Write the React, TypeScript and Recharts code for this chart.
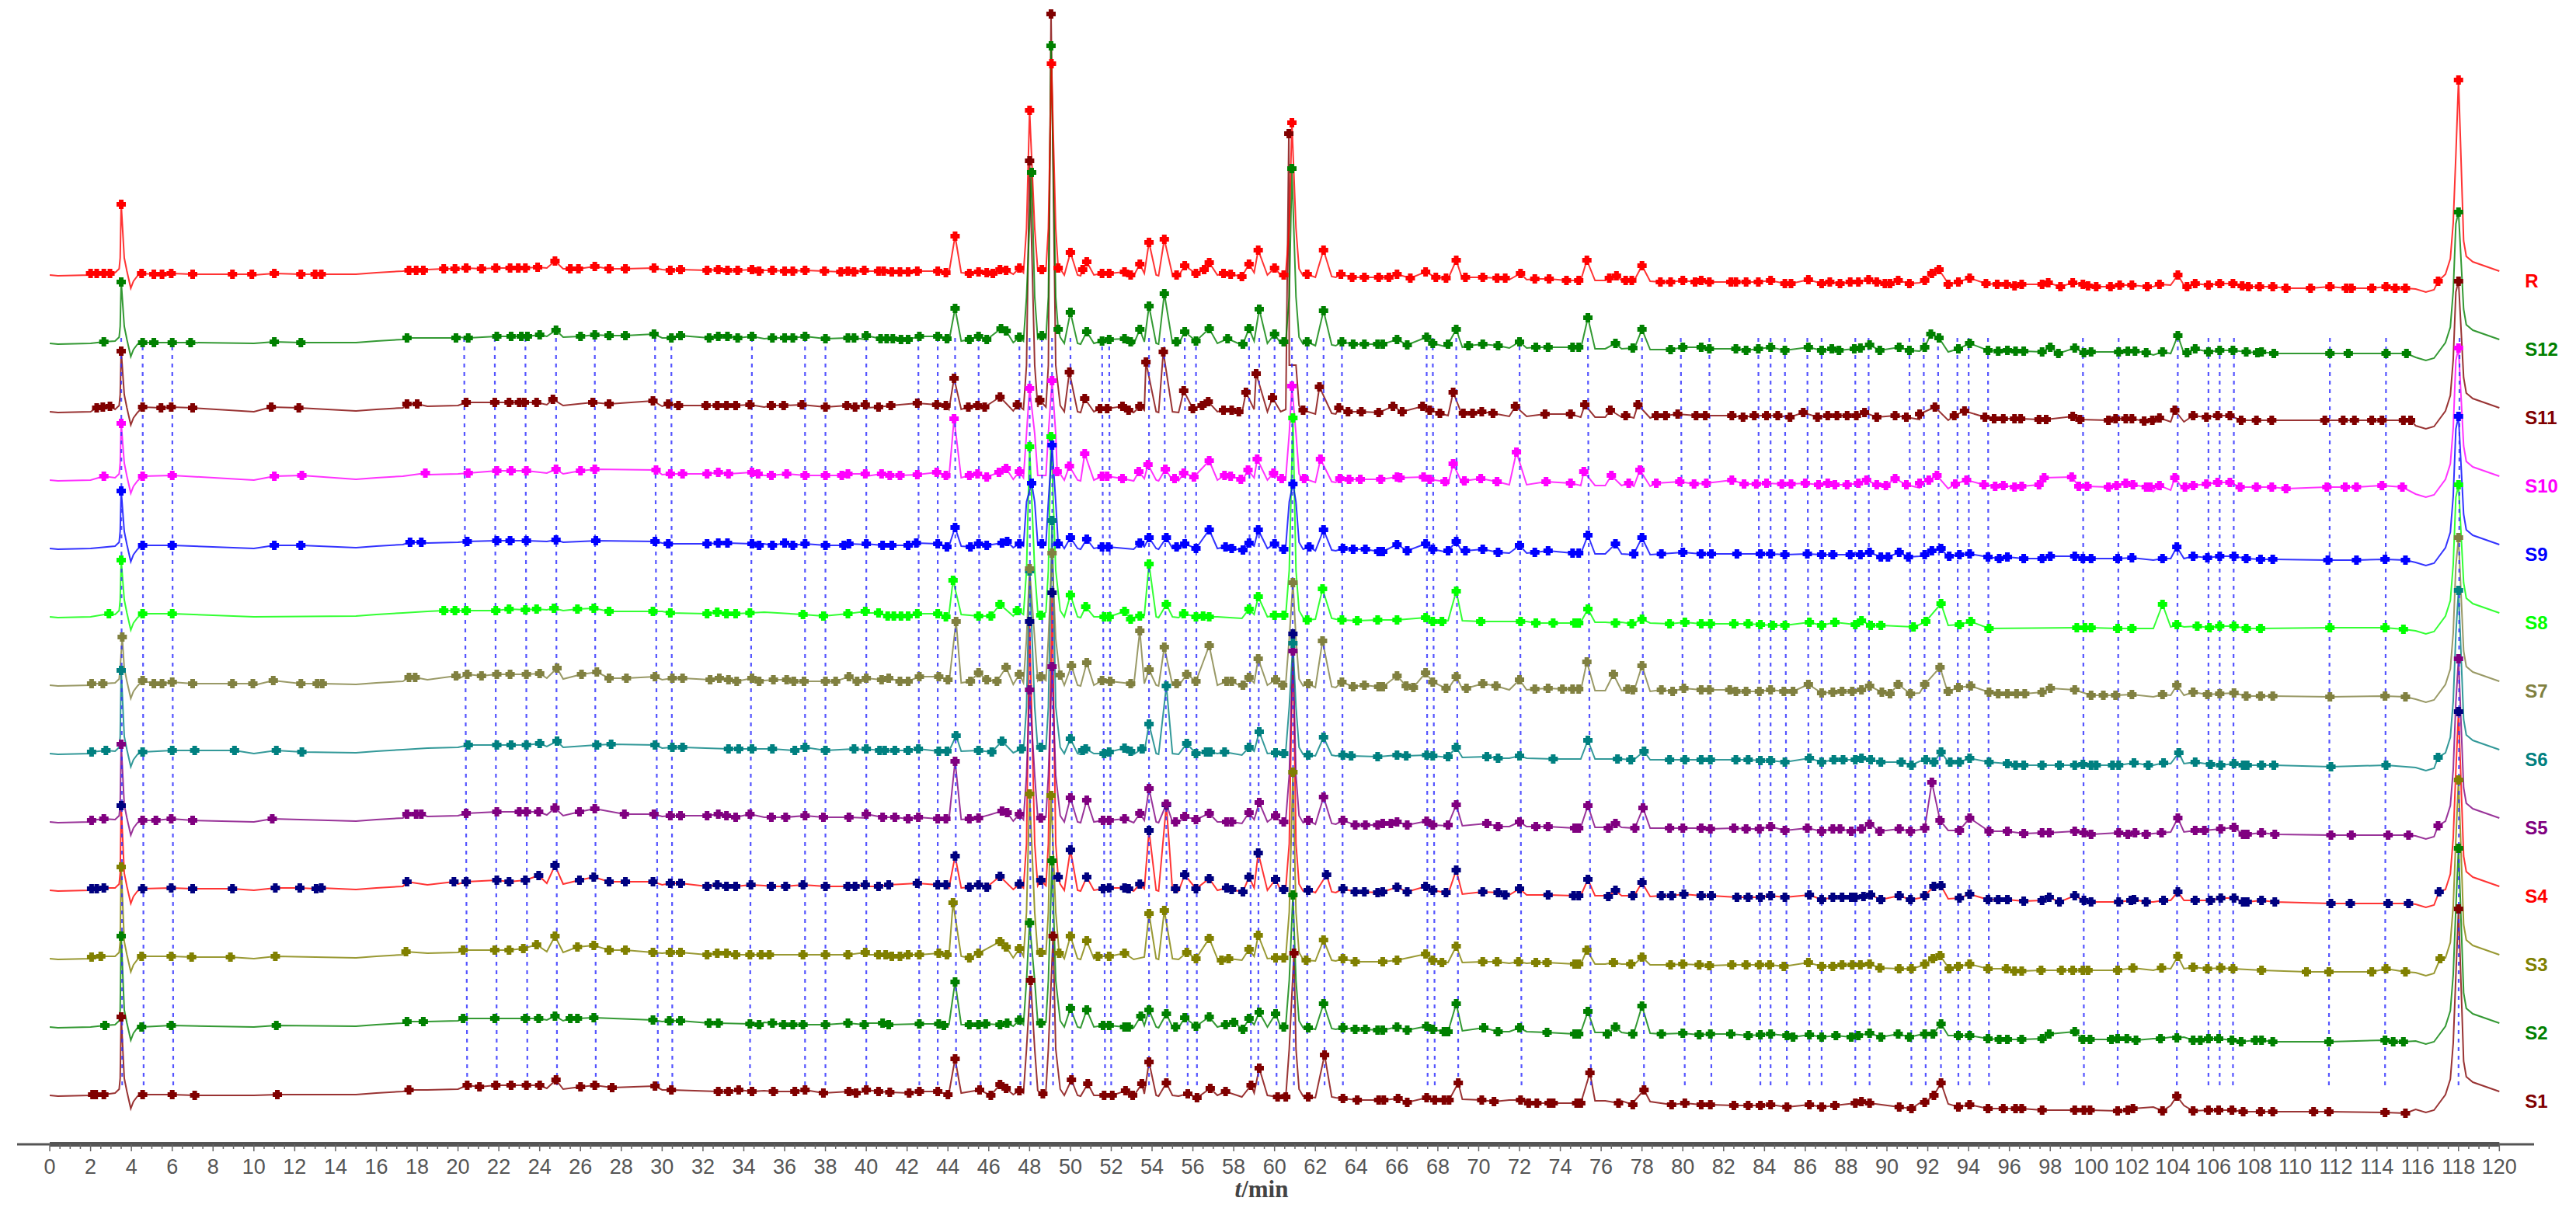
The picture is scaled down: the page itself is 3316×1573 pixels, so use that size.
import React from "react"
import { ComposedChart, Line, XAxis, YAxis, ReferenceLine, ReferenceDot, Label } from "recharts"

type Pair = [number, number]

// points every trace shares: valleys and peak feet, [min, signal]
const VALLEYS: Pair[] = [
  [0,0],[0.4,-1],[2,0],[3.2,3],[3.4,8],[3.45,22],[3.65,22],[3.78,5],[3.97,-17],[4.1,-8],[4.3,-1],[10,0],[15,1],[16,3],[17.3,5],[18.5,7],[20,8],[24.35,9],[25.15,8],[30,7],[35,6],[40,5],[44.05,3],[44.65,3],[47.2,1],
  [47.7,3],[47.85,60],[48.25,60],[48.4,6],[48.8,6],[48.92,60],[49.28,60],[49.5,8],[49.7,0],[50.35,0],[50.5,-1],[51.15,0],[53.1,-1],[53.62,2],[54.2,0],[54.32,-1],[55,0],[55.3,-1],[57.2,0],[58.4,-2],[59,3],[59.65,0],[60.3,0],[60.55,3],[60.72,60],[61.05,60],[61.2,8],[61.4,-1],[62,-3],[62.8,-2],[63,-3],[68.5,-5],[69.2,-5],[71.5,-6],[72.35,-6],[75,-7],[75.7,-7],[76.2,-7],[77,-7],
  [77.6,-8],[78.4,-8],[91.6,-10],[93,-11],[103.05,-15],[103.9,-13],[104.55,-13],[115.9,-18],[116.4,-22],[116.8,-19],[117.36,1],[117.6,21],[117.74,67],[117.87,154],[118.25,44],[118.38,24],[118.7,17],[120,5],
]

const R_MARKS: Pair[] = [
  [2,2],[2.3,2],[2.65,2],[2.95,2],[3.5,91],[4.5,2],[5.1,1],[5.5,1],[5.95,2],[7,1],[8.95,1],[9.9,1],[11,2],[12.3,1],[13,1],[13.3,1],[17.6,6],[17.95,6],[18.3,6],[19.3,8],[19.85,8],[20.4,9],[21.15,8],[21.85,9],[22.55,9],[22.95,9],[23.3,9],[23.9,10],[24.75,18],[25.5,8],[25.9,8],[26.7,11],
  [27.4,8],[28.2,8],[29.6,9],[30.4,6],[30.9,7],[32.2,6],[32.75,7],[33.2,6],[33.7,6],[34.4,7],[34.75,5],[35.4,6],[36,5],[36.4,5],[37,6],[37.95,5],[38.75,4],[39.1,5],[39.4,4],[39.9,6],[40.6,5],[40.85,5],[41.25,4],[41.65,4],[42.05,4],[42.5,5],[43.5,5],[43.9,3],[44.35,50],[45.05,2],[45.5,4],[45.9,3],[46.2,2],[46.55,7],[46.85,6],[47.5,9],
  [48,212],[48.6,7],[49.07,272],[49.4,9],[50,29],[50.6,7],[50.8,17],[51.55,2],[51.9,2],[52.65,4],[52.95,0],[53.4,14],[53.85,42],[54.6,46],[55.2,0],[55.6,12],[56.15,2],[56.55,7],[56.8,16],[57.5,2],[57.85,1],[58.4,-2],[58.75,14],[59.2,32],[60,9],[60.45,0],[60.85,196],[61.6,1],[62.4,32],[63.25,1],[63.8,-3],[64.4,-3],[65.1,-3],[65.6,-3],[66,1],[66.65,-4],[67.4,4],[67.9,-3],[68.4,-4],[68.9,19],[69.35,-3],[70.2,-3],[70.9,-4],[71.3,-4],[72.05,2],[72.75,-5],[73.45,-5],[74.3,-7],[74.9,-7],[75.3,19],[76.4,-4],[76.75,-1],
  [77.2,-7],[77.5,-7],[78,12],[78.9,-9],[79.4,-9],[80,-7],[80.6,-9],[80.9,-7],[81.3,-9],[82.35,-9],[82.6,-9],[83.1,-9],[83.7,-9],[84.3,-7],[85,-11],[85.3,-11],[86.15,-6],[86.8,-11],[87.2,-9],[87.7,-11],[88.2,-9],[88.6,-9],[89.1,-6],[89.5,-9],[89.9,-11],[90.15,-11],[90.55,-7],[91.1,-11],[91.85,-7],[92.2,2],[92.55,7],[93,-12],[93.5,-9],[94.05,-4],[94.85,-11],[95.4,-12],[95.85,-12],[96.25,-14],[96.6,-12],
  [97.6,-12],[97.9,-10],[98.5,-15],[99.1,-10],[99.6,-12],[99.85,-14],[100.25,-15],[100.95,-15],[101.4,-13],[102,-13],[102.75,-15],[103.35,-12],[104.25,0],[104.7,-15],[105.1,-11],[105.75,-13],[106.3,-11],[106.95,-11],[107.4,-14],[107.7,-15],[108.25,-15],[108.9,-15],[109.55,-17],[110.75,-17],[111.7,-15],[112.5,-17],[112.75,-17],[113.75,-17],[114.45,-15],[114.9,-17],[115.4,-17],[117,-8],[118,251],
]
const S12_MARKS: Pair[] = [
  [2.65,2],[3.5,79],[4.55,1],[5.1,1],[6,1],[6.9,1],[11,2],[12.3,1],[17.5,7],[19.9,7],[20.5,7],[21.9,9],[22.6,9],[23.1,9],[23.4,9],[24,11],[24.8,17],[26,9],[26.7,11],
  [27.4,10],[28.2,10],[29.6,12],[30.45,7],[30.9,10],[32.3,7],[32.75,9],[33.2,9],[33.7,7],[34.4,9],[35.4,7],[36,7],[36.4,7],[37,9],[38,6],[39.1,7],[39.4,7],[40,10],[40.7,6],[41,6],[41.3,6],[41.7,5],[42.05,5],[42.6,9],[43.5,9],[43.95,6],[44.35,45],[45.05,5],[45.5,9],[45.9,5],[46.6,19],[46.85,16],[47.5,8],
  [48.1,220],[48.6,10],[49.05,383],[49.4,18],[50,40],[50.8,15],[51.55,3],[51.9,5],[52.65,6],[52.95,2],[53.4,18],[53.85,48],[54.6,64],[55.2,2],[55.6,15],[56.15,3],[56.8,19],[57.7,6],[58.45,-1],[58.75,19],[59.25,44],[60,12],[60.45,2],[60.85,225],[61.6,2],[62.4,42],[63.3,2],[63.85,-1],[64.4,-1],[65.05,-1],[65.3,-1],[66,5],[66.5,-2],[67.45,8],[67.75,0],[68.5,-1],[68.9,18],[69.5,-3],[70.2,-1],[70.95,-3],[72,2],[72.8,-5],[73.4,-5],[74.6,-5],[74.9,-5],[75.35,33],[76.7,0],
  [77.55,-6],[78,18],[79.4,-8],[80,-5],[80.9,-5],[81.3,-7],[82.6,-7],[83.1,-9],[83.7,-7],[84.3,-5],[85,-9],[86.15,-5],[86.8,-9],[87.3,-7],[87.65,-9],[88.4,-7],[88.7,-6],[89.15,-2],[89.65,-9],[90.6,-5],[91.1,-9],[91.85,-5],[92.15,12],[92.55,7],[93.5,-7],[94.05,0],[94.95,-9],[95.45,-10],[95.9,-9],[96.3,-10],[96.7,-10],
  [97.6,-11],[98,-5],[98.4,-13],[99.2,-6],[99.65,-12],[100,-11],[101.35,-11],[101.8,-10],[102.15,-10],[102.7,-12],[103.5,-11],[104.25,10],[104.7,-12],[105.1,-7],[105.75,-11],[106.3,-9],[106.95,-9],[107.6,-11],[108.15,-12],[108.35,-11],[108.95,-13],[111.7,-13],[112.6,-13],[114.45,-13],[115.45,-13],[118,169],
]
const S11_MARKS: Pair[] = [
  [2.3,5],[2.6,6],[2.95,7],[3.5,78],[4.55,6],[5.45,5],[5.95,6],[7,5],[10.85,6],[12.2,5],[17.5,10],[18,10],[20.4,12],[21.8,12],[22.5,12],[23,12],[23.25,12],[23.85,12],[24.65,16],[26.6,12],
  [27.4,10],[29.55,14],[30.3,10],[30.8,8],[32.15,8],[32.7,8],[33.15,8],[33.6,8],[34.3,9],[35.35,8],[35.95,8],[36.85,9],[38,6],[39.05,8],[39.45,6],[39.95,9],[40.6,6],[41.2,8],[42.5,11],[43.45,9],[43.9,8],[44.3,43],[45,6],[45.45,8],[45.8,6],[46.55,19],[47.4,9],
  [48,323],[48.5,15],[49.05,512],[49.95,51],[50.7,17],[51.45,4],[51.8,4],[52.55,7],[52.85,2],[53.4,7],[53.7,64],[54.55,77],[55.55,27],[56,4],[56.45,8],[56.75,13],[57.5,2],[57.9,2],[58.25,0],[58.6,25],[59.1,49],[59.9,18],[60.7,358],[61.4,2],[62.2,32],[63.15,5],[63.6,0],[64.25,0],[65.1,-1],[65.8,7],[66.25,0],[67.25,7],[67.6,2],[68.1,-2],[68.75,25],[69.25,-2],[69.7,-2],[70.15,0],[70.7,-2],[71.8,7],[73.25,-3],[74.5,-3],[75.2,9],[76.45,2],
  [77.2,-5],[77.8,9],[78.7,-5],[79.15,-5],[79.75,-3],[80.65,-5],[81.1,-5],[82.4,-5],[82.95,-7],[83.5,-5],[84.1,-5],[84.65,-5],[85.25,-7],[85.9,-1],[86.6,-7],[87.1,-5],[87.55,-5],[88.05,-5],[88.5,-5],[88.9,-1],[89.5,-7],[90.4,-5],[90.95,-7],[91.6,-3],[92.35,6],[93.3,-5],[93.8,1],[94.8,-7],[95.25,-9],[95.7,-9],[96.25,-9],[96.55,-9],
  [97.45,-10],[97.8,-10],[99.1,-6],[99.45,-10],[100.85,-11],[101.2,-9],[101.7,-9],[102,-9],[102.6,-12],[103,-11],[103.35,-8],[104.1,2],[105,-5],[105.65,-7],[106.2,-5],[106.8,-5],[107.35,-11],[108.1,-11],[108.85,-11],[111.45,-11],[112.35,-11],[112.9,-11],[113.75,-11],[114.25,-11],[115.3,-11],[115.65,-11],[118,168],
]
const S10_MARKS: Pair[] = [
  [2.65,5],[3.5,73],[4.55,5],[6,6],[11,5],[12.35,6],[18.4,9],[20.5,9],[21.9,12],[22.6,12],[23.35,12],[24.8,14],[26,12],[26.7,14],
  [29.7,13],[30.4,8],[31,8],[32.2,8],[32.75,10],[33.25,8],[34.4,10],[34.7,8],[35.35,6],[36.1,8],[37,6],[38,6],[38.8,6],[39.1,8],[39.95,8],[40.75,8],[41.15,6],[41.65,6],[42.5,7],[43.45,10],[43.9,6],[44.3,79],[45.05,6],[45.45,8],[45.9,4],[46.5,10],[46.85,15],[47.5,11],
  [48,118],[49.1,128],[49.35,11],[49.95,18],[50.7,34],[51.55,5],[51.8,5],[52.55,2],[53.35,11],[53.8,20],[54.65,14],[55.1,2],[55.55,9],[56.05,4],[56.8,25],[57.55,6],[57.85,5],[58.35,1],[58.7,13],[59.15,27],[59.95,9],[60.35,2],[60.85,121],[61.45,2],[62.25,27],[63.2,2],[63.65,1],[64.2,1],[65.2,1],[66,4],[66.15,3],[67.3,4],[67.6,1],[68.35,-2],[68.75,21],[69.3,-1],[70.1,2],[70.9,-2],[71.85,36],[73.3,-2],[74.5,-4],[75.15,11],[76.5,6],
  [77.35,-4],[77.9,13],[78.7,-4],[79.85,-2],[80.55,-5],[81.15,-4],[82.4,0],[83,-5],[83.6,-5],[84.1,-4],[84.85,-5],[85.3,-5],[86,-4],[86.65,-6],[87.1,-4],[87.45,-6],[88.05,-6],[88.6,-4],[89,0],[89.5,-6],[89.95,-7],[90.4,2],[90.95,-6],[91.6,-4],[92.05,0],[92.45,6],[93.35,-5],[93.9,0],[94.75,-6],[95.3,-8],[95.7,-7],[96.25,-9],[96.6,-8],
  [97.45,-6],[97.7,3],[99.05,4],[99.4,-8],[99.8,-8],[100.85,-9],[101.25,-7],[101.7,-4],[102.05,-6],[102.7,-9],[102.9,-9],[103.35,-7],[104.1,3],[104.6,-9],[105,-7],[105.65,-5],[106.2,-3],[106.8,-3],[107.3,-9],[108.1,-9],[108.85,-9],[109.55,-11],[111.55,-9],[112.45,-9],[113,-9],[114.25,-7],[115.25,-9],[118,170],
]
const S9_MARKS: Pair[] = [
  [3.5,74],[4.55,4],[6,4],[11,4],[12.3,4],[17.65,8],[18.2,8],[20.45,9],[21.9,10],[22.55,10],[23.35,10],[24.8,11],[26.75,10],
  [29.65,9],[30.3,6],[32.2,6],[32.75,7],[33.2,7],[34.4,6],[34.75,4],[35.4,4],[36,7],[36.4,4],[37,6],[38,4],[38.9,4],[39.15,6],[40,6],[40.8,4],[41.25,4],[42.05,4],[42.45,7],[43.5,6],[43.95,2],[44.35,27],[45.1,2],[45.5,6],[45.9,4],[46.65,7],[46.9,9],[47.5,6],
  [48.1,84],[48.6,6],[49.1,133],[49.4,6],[50,14],[50.8,12],[51.55,2],[51.85,2],[53.4,7],[53.85,14],[54.7,14],[55.2,2],[55.6,6],[56.15,0],[56.8,24],[57.6,2],[57.9,0],[58.45,-2],[58.75,7],[59.2,24],[60,6],[60.45,-1],[60.9,83],[61.7,2],[62.4,24],[63.35,0],[63.85,-1],[64.45,-1],[65.1,-4],[65.3,-4],[66,5],[66.5,-3],[67.4,6],[67.75,-1],[68.5,-3],[68.9,9],[69.35,-3],[70.2,-1],[70.95,-5],[72,4],[72.75,-5],[73.4,-3],[74.6,-6],[74.9,-6],[75.35,17],[76.7,6],
  [77.6,-7],[78,14],[78.95,-7],[80,-5],[80.9,-7],[81.4,-7],[82.65,-7],[83.8,-7],[84.3,-7],[85,-8],[86.1,-7],[86.8,-8],[87.35,-8],[88.2,-8],[88.7,-8],[89.15,-5],[89.7,-11],[90.05,-11],[90.6,-5],[91.05,-11],[91.85,-8],[92.2,-3],[92.65,0],[93.05,-10],[93.55,-8],[94.05,-7],[94.95,-11],[95.5,-13],[95.9,-11],[96.7,-13],
  [97.6,-13],[98,-10],[99.2,-10],[99.6,-13],[100,-13],[101.3,-13],[102,-12],[103.5,-13],[104.2,2],[105,-10],[105.7,-12],[106.3,-10],[107,-10],[107.6,-13],[108.3,-14],[108.9,-14],[111.6,-15],[113,-15],[114.4,-14],[115.4,-15],[118,170],
]
const S8_MARKS: Pair[] = [
  [2.9,4],[3.5,73],[4.55,4],[6,4],[19.3,8],[19.85,8],[20.4,8],[21.85,8],[22.5,10],[23.3,9],[23.85,10],[24.7,11],[25.85,10],[26.65,11],
  [27.4,7],[29.55,7],[30.4,5],[32.2,4],[32.7,6],[33.15,4],[33.6,4],[34.3,5],[36.9,3],[37.9,1],[39.1,4],[39.95,7],[40.6,5],[41.05,1],[41.35,1],[41.7,1],[42.05,1],[42.5,4],[43.5,4],[43.9,0],[44.25,47],[45.5,1],[46.1,1],[46.55,16],[47.4,8],
  [48,219],[48.55,2],[49.05,232],[50,28],[50.75,13],[51.65,0],[51.9,0],[52.65,7],[52.95,-3],[53.4,1],[53.85,68],[54.7,16],[55.55,4],[56.15,0],[56.5,1],[56.8,0],[58.75,10],[59.2,26],[60,2],[60.45,2],[60.9,256],[61.6,-4],[62.35,36],[63.3,-4],[64.05,-5],[65.05,-4],[66,-4],[67.4,-1],[67.75,-6],[68.2,-6],[68.9,33],[70.1,-6],[72.05,-6],[72.8,-8],[73.65,-8],[74.7,-8],[74.9,-8],[75.35,10],[76.7,-8],
  [77.5,-9],[78,-3],[79.35,-9],[80.1,-7],[80.9,-9],[81.35,-9],[82.5,-9],[83.2,-9],[83.8,-10],[84.4,-11],[85,-11],[86.2,-7],[86.8,-11],[87.45,-7],[88.45,-10],[88.75,-5],[89.2,-11],[89.7,-11],[91.3,-13],[91.9,-6],[92.65,17],[93.55,-10],[94.1,-6],[95,-15],
  [99.3,-14],[99.7,-14],[100,-14],[101.3,-15],[102,-15],[103.5,16],[104.2,-10],[105.2,-12],[105.8,-14],[106.3,-12],[107,-12],[107.6,-15],[108.3,-15],[111.7,-14],[114.4,-14],[115.3,-16],[118,170],
]
const S7_MARKS: Pair[] = [
  [2.05,2],[2.6,2],[3.55,62],[4.55,6],[5.1,2],[5.5,2],[6,4],[7,2],[8.95,2],[9.95,2],[10.95,6],[12.3,2],[13.1,2],[13.35,2],[17.6,10],[17.9,10],[19.9,12],[20.45,14],[21.15,12],[21.9,14],[22.55,14],[23.35,14],[24,15],[24.85,22],[26.05,14],[26.8,17],
  [27.4,9],[28.25,9],[29.65,11],[30.5,9],[31,9],[32.35,7],[32.8,9],[33.25,7],[33.65,5],[34.4,9],[34.75,5],[35.45,7],[36.1,7],[36.45,5],[36.95,5],[38,5],[38.5,5],[39.15,11],[39.55,5],[40,9],[40.75,7],[41.1,9],[41.65,5],[42.05,5],[42.6,11],[43.55,11],[44,7],[44.4,82],[45.1,5],[45.5,16],[45.9,7],[46.4,5],[46.85,23],[47.5,14],
  [48,150],[48.55,11],[49.1,170],[49.5,13],[50.05,25],[50.8,29],[51.55,6],[51.95,5],[52.95,2],[53.4,70],[53.85,20],[54.6,49],[55.2,2],[55.7,14],[56.15,5],[56.8,51],[57.65,5],[57.9,5],[58.45,0],[58.75,10],[59.2,34],[60.05,7],[60.4,0],[60.9,132],[61.65,2],[62.35,57],[63.3,4],[63.85,-2],[64.4,0],[65.1,-2],[65.3,-2],[66,12],[66.45,-1],[66.8,-3],[67.4,16],[67.75,4],[68.4,-4],[68.9,11],[69.4,-4],[70.2,2],[70.85,-1],[72,7],[72.75,-5],[73.4,-4],[74.1,-5],[74.6,-5],[74.9,-5],[75.3,30],[76.6,14],
  [77.3,-5],[77.55,-6],[78,25],[78.95,-6],[79.5,-8],[80.05,-4],[80.9,-6],[81.3,-6],[82.3,-6],[82.6,-8],[83.1,-8],[83.75,-8],[84.3,-6],[84.95,-8],[85.4,-8],[86.15,1],[86.8,-10],[87.35,-9],[87.8,-8],[88.3,-8],[88.75,-6],[89.15,-1],[89.75,-9],[90.15,-11],[90.55,1],[91.15,-11],[91.85,1],[92.6,23],[93,-8],[93.5,-3],[94.1,-1],[95,-9],[95.45,-11],[95.9,-11],[96.35,-11],[96.75,-11],
  [97.6,-9],[98,-4],[99.2,-6],[100,-13],[100.6,-13],[101.2,-13],[102,-12],[103.5,-12],[104.2,0],[105,-9],[105.7,-12],[106.3,-11],[107,-10],[107.6,-14],[108.3,-14],[108.9,-14],[111.7,-15],[114.4,-14],[115.4,-15],[118,190],
]
const S6_MARKS: Pair[] = [
  [2.05,2],[2.75,4],[3.5,107],[4.55,2],[6,4],[7.1,4],[9.05,4],[11.1,4],[12.35,2],[20.5,11],[21.9,11],[22.6,11],[23.35,11],[24,13],[24.85,16],[26.8,11],
  [27.5,12],[29.65,11],[30.5,8],[31,8],[33.25,6],[33.75,6],[34.4,6],[35.4,6],[36.5,4],[37,8],[38,4],[39.4,6],[40,6],[40.65,4],[40.9,4],[41.4,4],[42.05,4],[42.55,6],[43.55,3],[43.95,3],[44.4,23],[45.5,4],[46.15,2],[46.65,16],[47.6,6],
  [48,235],[48.55,8],[49.1,300],[50,19],[50.6,4],[50.75,6],[51.65,0],[51.9,2],[52.65,7],[52.95,3],[53.5,6],[53.85,38],[54.7,87],[55.7,13],[56.15,0],[56.65,2],[56.85,2],[57.55,2],[58.75,8],[59.25,28],[60.05,1],[60.45,0],[60.9,142],[61.65,-2],[62.4,21],[63.35,-2],[63.75,-3],[65.05,-4],[66,-2],[66.45,-3],[67.45,-2],[67.75,-3],[68.5,-4],[68.9,8],[70.4,-4],[70.95,-6],[72,-3],[73.65,-7],[75.35,17],[76.8,-7],
  [77.45,-8],[78.1,3],[79.35,-8],[80.1,-8],[80.9,-8],[81.35,-8],[82.6,-8],[83.2,-8],[83.8,-9],[84.3,-9],[85,-11],[86.2,-6],[86.8,-11],[87.4,-8],[87.85,-8],[88.45,-8],[88.75,-6],[89.2,-8],[89.7,-11],[90.7,-11],[91.2,-15],[91.9,-8],[92.3,-11],[92.65,2],[93.1,-11],[93.55,-11],[94.05,-6],[95,-11],[95.9,-13],[96.3,-15],[96.7,-15],
  [97.6,-15],[98.45,-15],[99.2,-15],[99.6,-14],[100,-15],[100.25,-15],[101.05,-15],[101.35,-15],[102.1,-12],[102.8,-15],[103.55,-12],[104.3,1],[105.1,-11],[105.85,-14],[106.35,-15],[107,-13],[107.45,-15],[107.65,-15],[108.35,-15],[108.95,-15],[111.75,-17],[114.45,-15],[117,-5],[118,210],
]
const S5_MARKS: Pair[] = [
  [2.05,2],[2.65,4],[3.5,100],[4.55,2],[5.2,2],[5.95,4],[7,2],[10.9,4],[17.5,10],[17.95,10],[18.2,10],[20.4,11],[21.9,13],[23,13],[23.35,13],[23.95,13],[24.75,18],[25.95,13],[26.7,17],
  [28.15,10],[29.6,10],[30.4,8],[30.9,8],[32.2,8],[32.75,10],[33.15,8],[33.6,6],[34.3,10],[35.35,6],[36.05,6],[37,8],[37.9,6],[39.15,6],[40,10],[40.8,6],[41.4,6],[42.05,4],[42.55,6],[43.5,4],[43.9,4],[44.35,78],[45.05,4],[45.5,5],[46.65,14],[46.9,12],[47.5,10],
  [48,170],[48.55,5],[49.1,200],[50,31],[50.8,28],[51.6,2],[51.9,2],[52.65,4],[53.4,11],[53.85,43],[54.7,23],[55.15,0],[55.6,7],[56.15,3],[56.8,11],[57.65,0],[57.9,0],[58.75,12],[59.25,25],[60.05,8],[60.45,0],[60.9,220],[61.65,2],[62.4,32],[63.35,2],[63.95,-4],[64.45,-4],[65.05,-4],[65.3,-2],[65.7,-2],[66,0],[66.5,-4],[67.45,1],[67.75,-4],[68.5,-4],[68.9,22],[70.4,-2],[70.95,-6],[72,0],[72.8,-6],[73.4,-6],[74.7,-8],[74.9,-8],[75.35,21],[76.35,-8],[76.7,-2],
  [77.65,-8],[78.05,18],[79.35,-8],[80,-8],[80.9,-8],[81.35,-9],[82.5,-8],[83.1,-9],[83.75,-9],[84.3,-6],[85,-11],[86.1,-8],[86.8,-12],[87.35,-9],[87.7,-9],[88.25,-12],[88.75,-9],[89.15,-3],[89.65,-12],[90.6,-9],[91.15,-12],[91.85,-8],[92.2,51],[92.6,2],[93.55,-11],[94.05,5],[95,-12],[95.9,-12],[96.7,-15],
  [97.6,-14],[97.95,-14],[99.2,-12],[99.65,-14],[100,-16],[101.35,-14],[101.8,-16],[102.15,-14],[102.7,-16],[103.45,-14],[104.25,5],[105.1,-11],[105.55,-11],[106.35,-9],[107,-7],[107.45,-16],[107.65,-16],[108.35,-14],[109,-16],[111.75,-17],[112.75,-17],[114.55,-17],[115.55,-17],[117,-5],[118,210],
]
const S4_MARKS: Pair[] = [
  [2.05,2],[2.3,2],[2.65,3],[3.5,109],[4.55,2],[5.95,3],[7,2],[8.95,2],[11.05,3],[12.25,3],[13.05,2],[13.3,3],[17.5,11],[19.8,11],[20.4,11],[21.9,13],[22.5,11],[23.3,13],[23.95,19],[24.75,32],[25.95,13],[26.65,17],
  [27.4,11],[28.2,11],[29.55,11],[30.4,9],[30.9,9],[32.2,5],[32.7,7],[33.15,5],[33.6,5],[34.35,7],[35.35,5],[36.05,5],[36.9,7],[38,5],[39.1,5],[39.45,5],[39.95,7],[40.6,5],[41.1,7],[42.5,9],[43.5,7],[43.9,7],[44.35,44],[45.05,4],[45.5,7],[45.9,4],[46.55,18],[47.5,8],
  [48,346],[48.55,13],[49.1,383],[49.4,17],[50,52],[50.8,17],[51.6,2],[51.9,3],[52.65,3],[52.85,2],[53.4,8],[53.85,77],[54.7,110],[55.15,2],[55.6,20],[56.15,2],[56.8,15],[57.65,3],[57.9,1],[58.45,-2],[58.75,17],[59.2,48],[60.05,14],[60.45,1],[60.9,330],[61.65,0],[62.55,20],[63.35,2],[63.95,-2],[64.4,-2],[65.05,-3],[65.3,-2],[66,4],[66.5,-2],[67.4,5],[67.75,0],[68.4,-3],[68.9,26],[70.2,-2],[70.95,-3],[71.3,-6],[72,2],[73.4,-6],[74.65,-7],[74.9,-7],[75.35,14],[76.35,-8],[76.7,0],
  [77.55,-7],[78,10],[78.95,-7],[79.45,-7],[80.05,-5],[80.9,-7],[81.4,-7],[82.65,-9],[83.2,-9],[83.8,-9],[84.3,-7],[85,-9],[86.2,-6],[86.8,-12],[87.35,-9],[87.8,-9],[88.25,-9],[88.45,-9],[88.85,-8],[89.2,-6],[89.7,-12],[90.6,-7],[91.15,-12],[91.85,-7],[92.3,5],[92.65,6],[93.55,-10],[94.05,-5],[94.95,-12],[95.45,-12],[95.9,-12],[96.7,-14],
  [97.6,-13],[97.95,-9],[98.45,-15],[99.2,-7],[99.65,-13],[100,-15],[101.35,-15],[101.95,-13],[102.1,-12],[102.7,-15],[103.55,-13],[104.25,-2],[105.1,-13],[105.85,-13],[106.35,-10],[107,-10],[107.45,-15],[107.65,-15],[108.35,-13],[109,-15],[111.75,-17],[112.7,-17],[114.55,-17],[115.55,-17],[117.05,-2],[118,230],
]
const S3_MARKS: Pair[] = [
  [2.05,2],[2.5,3],[3.5,118],[4.5,3],[5.95,3],[6.95,2],[8.85,2],[11.05,3],[17.45,9],[20.25,11],[21.8,11],[22.5,11],[23.2,13],[23.85,18],[24.75,29],[25.85,15],[26.65,17],
  [27.4,11],[28.2,11],[29.55,8],[30.4,8],[30.9,8],[32.2,5],[32.7,7],[33.15,7],[33.6,5],[34.3,5],[34.85,5],[35.25,5],[36.9,5],[38,5],[39.1,5],[39.95,8],[40.6,5],[40.95,5],[41.25,3],[41.65,3],[42.05,5],[42.6,5],[43.55,7],[43.95,5],[44.25,72],[45.05,1],[45.5,7],[46.55,22],[46.85,15],[47.5,13],
  [48,212],[48.55,8],[49.05,210],[49.45,7],[50,29],[50.8,23],[51.35,3],[51.9,3],[52.65,7],[53.85,58],[54.6,62],[55.7,8],[56.15,0],[56.8,26],[57.4,-2],[57.75,0],[58.75,12],[59.2,30],[60.05,1],[60.45,1],[60.9,240],[61.55,-2],[62.4,24],[63.35,0],[63.95,-4],[65.3,-4],[66,-2],[67.4,6],[67.75,-2],[68.2,-5],[68.9,16],[70.2,-4],[70.9,-4],[71.95,-4],[72.8,-5],[73.35,-5],[74.7,-7],[74.9,-7],[75.3,11],[76.6,-5],
  [77.45,-7],[78,2],[79.4,-8],[80,-7],[80.8,-8],[81.3,-9],[82.4,-8],[83.1,-8],[83.75,-8],[84.25,-8],[84.95,-10],[86.15,-5],[86.8,-10],[87.35,-10],[87.8,-8],[88.3,-8],[88.7,-8],[89.15,-7],[89.65,-12],[90.6,-13],[91.2,-13],[91.85,-7],[92.25,0],[92.6,4],[93.05,-13],[93.5,-10],[94.05,-7],[94.95,-13],[95.85,-13],[96.25,-16],[96.6,-16],
  [97.55,-15],[98.55,-15],[99.1,-15],[99.6,-15],[99.85,-15],[101.3,-15],[102.05,-12],[103.45,-12],[104.25,3],[105,-11],[105.7,-13],[106.35,-12],[106.95,-13],[108.35,-15],[110.55,-17],[111.65,-17],[113.75,-17],[114.45,-13],[115.4,-17],[117.1,0],[118,230],
]
const S2_MARKS: Pair[] = [
  [2.7,2],[3.5,117],[4.5,0],[5.95,2],[11.1,2],[17.5,7],[18.3,7],[20.25,11],[21.8,11],[23.3,11],[23.95,11],[24.75,14],[25.5,11],[25.85,11],[26.65,12],
  [29.55,9],[30.35,8],[30.9,8],[32.3,5],[32.75,5],[34.3,4],[34.75,3],[35.4,5],[35.95,3],[36.4,3],[36.9,3],[38,3],[39.1,5],[39.9,3],[40.8,5],[41.1,3],[42.6,4],[43.55,4],[43.8,2],[44.35,58],[45.05,3],[45.5,3],[45.85,4],[46.55,3],[46.9,5],[47.5,9],
  [48,134],[48.55,5],[49.1,214],[50,24],[50.8,22],[51.6,2],[51.9,2],[52.65,0],[52.85,0],[53.45,14],[53.85,22],[54.7,17],[55.15,0],[55.6,12],[56.15,1],[56.8,13],[57.6,3],[58,6],[58.45,-3],[58.75,11],[59.25,19],[60.05,17],[60.45,0],[60.9,170],[61.65,-1],[62.4,30],[63.35,-1],[63.95,-3],[64.45,-3],[65.05,-4],[65.3,-4],[66,0],[66.5,-4],[67.45,1],[67.75,-3],[68.3,-6],[68.5,-6],[68.9,30],[70.25,-1],[70.95,-6],[72,-1],[73.35,-7],[74.7,-9],[74.9,-9],[75.35,20],[76.3,-9],[76.7,0],
  [77.55,-9],[78,27],[78.95,-9],[80,-8],[80.8,-10],[81.35,-9],[82.35,-9],[83.2,-11],[83.8,-10],[84.3,-9],[85.1,-11],[85.4,-13],[86.2,-10],[86.8,-13],[87.5,-11],[88.25,-13],[88.6,-11],[89.15,-8],[89.7,-13],[90.55,-9],[91.1,-13],[91.85,-9],[92.25,-9],[92.65,4],[93.5,-11],[94.05,-11],[94.95,-15],[95.5,-16],[95.9,-16],[96.6,-16],
  [97.6,-15],[97.95,-9],[99.2,-6],[99.6,-16],[99.95,-16],[101,-16],[101.3,-15],[101.75,-15],[102.2,-17],[103.4,-15],[104.2,-14],[105,-17],[105.35,-17],[105.75,-15],[106.25,-15],[106.9,-17],[107.35,-19],[108.05,-17],[108.35,-17],[108.9,-19],[111.65,-19],[114.4,-17],[114.8,-19],[115.3,-19],[118,230],
]
const S1_MARKS: Pair[] = [
  [2.1,1],[2.25,1],[2.65,1],[3.5,101],[4.55,1],[6,1],[7.1,0],[11.15,1],[17.6,7],[20.45,13],[21.05,11],[21.85,13],[22.6,13],[23.35,13],[24,13],[24.8,20],[26,11],[26.7,13],
  [27.55,10],[29.65,12],[30.45,7],[32.75,5],[33.25,5],[33.75,7],[34.4,5],[35.45,5],[36.5,5],[37,7],[37.9,3],[39.15,5],[39.5,3],[40,7],[40.6,5],[41.15,4],[42.1,3],[42.6,5],[43.5,5],[44,1],[44.35,47],[45.55,7],[46.1,0],[46.55,14],[46.85,9],[47.5,6],
  [48.05,148],[48.65,2],[49.15,205],[50.05,20],[50.85,15],[51.65,0],[52.05,0],[52.7,6],[53.05,0],[53.5,15],[53.85,43],[54.7,16],[55.75,2],[56.2,-3],[56.85,9],[57.6,5],[58.85,13],[59.25,35],[60.15,-2],[60.55,-2],[60.95,183],[61.65,-2],[62.45,52],[63.35,-4],[64.05,-6],[65.1,-6],[65.35,-6],[66.05,-4],[66.5,-9],[67.45,-3],[67.85,-6],[68.3,-6],[68.55,-6],[69,16],[70.15,-6],[70.75,-8],[72.05,-6],[72.45,-10],[72.85,-10],[73.45,-10],[73.65,-10],[74.8,-10],[75,-10],[75.45,29],[76.85,-10],
  [77.55,-12],[78.1,7],[79.45,-12],[80.1,-10],[80.9,-12],[81.35,-12],[82.5,-13],[83.2,-13],[83.8,-13],[84.3,-12],[85.1,-15],[86.2,-12],[86.8,-15],[87.45,-13],[88.45,-10],[88.75,-8],[89.15,-10],[90.6,-15],[91.2,-17],[91.85,-9],[92.3,0],[92.65,16],[93.5,-15],[94.05,-12],[94.95,-17],[95.7,-17],[96.3,-17],[96.6,-17],
  [97.6,-19],[99.2,-19],[99.65,-19],[99.95,-19],[101.3,-20],[101.8,-19],[102.05,-17],[103.5,-20],[104.2,-1],[105,-20],[105.75,-19],[106.25,-19],[106.9,-19],[107.45,-21],[108.3,-21],[108.9,-21],[110.9,-21],[111.65,-21],[114.4,-22],[115.4,-23],[118,240],
]

const TRACE_NAMES = ["S1", "S2", "S3", "S4", "S5", "S6", "S7", "S8", "S9", "S10", "S11", "S12", "R"]
const TRACE_OFFSETS = [63, 151, 239, 327, 415, 503, 591, 679, 767, 855, 943, 1031, 1119]
const TRACE_COLORS = ["#800000", "#008000", "#808000", "#ff0000", "#800080", "#008080", "#808040", "#00ff00", "#0000ff", "#ff00ff", "#800000", "#008000", "#ff0000"]
const MARK_COLORS = ["#800000", "#008000", "#808000", "#000080", "#800080", "#008080", "#808040", "#00ff00", "#0000ff", "#ff00ff", "#800000", "#008000", "#ff0000"]
const TRACE_MARKS = [S1_MARKS, S2_MARKS, S3_MARKS, S4_MARKS, S5_MARKS, S6_MARKS, S7_MARKS, S8_MARKS, S9_MARKS, S10_MARKS, S11_MARKS, S12_MARKS, R_MARKS]

// matched peak tie lines, retention time at S12 and at S1
const LINK_TOP = [3.5,4.55,6,20.3,21.8,23.3,24.8,26.7,29.65,30.45,34.4,37,38,40,42.55,43.5,44.35,45.5,47.5,48,48.6,49.1,50,51.55,51.9,53.85,54.6,55.6,56.15,58.75,59.25,60,60.85,61.6,62.4,63.3,67.45,67.75,68.9,72,75.35,78,79.9,81.3,83.7,84.3,85,86.1,86.8,88.45,89.1,91.1,91.8,92.5,93.45,94,94.95,99.6,101.35,104.25,105.75,106.3,107,111.7,114.45,118.05]
const LINK_BOTTOM = [3.55,4.6,6.05,20.45,21.9,23.4,24.85,26.75,29.8,30.5,34.3,37,38,40,42.6,43.5,44.4,45.6,47.55,48.05,48.65,49.15,50.1,51.7,52,53.85,54.75,55.75,56.2,58.85,59.2,60.1,60.95,61.6,62.45,63.35,67.5,67.85,69,72.1,75.5,78.1,80.1,81.4,83.8,84.3,85.1,86.2,86.8,88.45,89.15,91.2,91.9,92.65,93.5,94.05,95,99.65,101.3,104.2,105.75,106.3,106.95,111.65,114.4,118]
const LINK_TOP_VALUE = 1038
const LINK_BOTTOM_VALUE = 70

const AXIS_TICKS = Array.from({ length: 241 }, (_, i) => i / 2)

function buildTrace(marks: Pair[], offset: number) {
  const pts = [
    ...VALLEYS.map(([t, s]) => ({ t, v: offset + s, mark: false })),
    ...marks.map(([t, s]) => ({ t, v: offset + s, mark: true })),
  ]
  return pts.sort((a, b) => a.t - b.t)
}

function markDot(color: string) {
  return (props: any) => {
    const { cx, cy, index, payload } = props
    if (!payload.mark) return <g key={index} />
    return (
      <path
        key={index}
        transform={`translate(${cx},${cy})`}
        d="M-3,-6h6v3h3v6h-3v3h-6v-3h-3v-6h3z"
        fill={color}
      />
    )
  }
}

function AxisTick({ x, y, payload }: any) {
  const major = payload.value % 2 === 0
  return (
    <g>
      <line x1={x} x2={x} y1={y} y2={y + (major ? 9 : 6)} stroke="#666" strokeWidth={1.5} />
      {major && (
        <text x={x} y={y + 38} textAnchor="middle" fontFamily="'Liberation Sans Narrow', 'Liberation Sans', sans-serif" fontSize={27} fill="#555">
          {payload.value}
        </text>
      )}
    </g>
  )
}

export default function App() {
  return (
    <div style={{ position: "absolute", left: 0, top: 0, width: 3316, height: 1573, background: "#fff" }}>
      <ComposedChart width={3316} height={1573} margin={{ top: 0, right: 54, bottom: 0, left: 22 }}>
        <XAxis
          type="number"
          dataKey="t"
          domain={[-1.6, 121.7]}
          ticks={AXIS_TICKS}
          interval={0}
          height={100}
          tickLine={false}
          tickSize={0}
          tickMargin={0}
          tick={AxisTick}
          axisLine={{ stroke: "#555", strokeWidth: 3 }}
          allowDuplicatedCategory={false}
        >
          <Label
            content={() => (
              <text x={1624} y={1541} textAnchor="middle" fontFamily="'Liberation Serif', serif" fontSize={31} fontWeight="bold" fill="#444">
                <tspan fontStyle="italic">t</tspan>/min
              </text>
            )}
          />
        </XAxis>
        <YAxis hide type="number" domain={[0, 1473]} />
        <ReferenceLine segment={[{ x: 0, y: 0 }, { x: 120, y: 0 }]} stroke="#555" strokeWidth={6} />
        {TRACE_NAMES.map((name, i) => (
          <Line
            key={name}
            data={buildTrace(TRACE_MARKS[i], TRACE_OFFSETS[i])}
            dataKey="v"
            type="linear"
            stroke={TRACE_COLORS[i]}
            strokeOpacity={0.8}
            strokeWidth={2}
            dot={markDot(MARK_COLORS[i])}
            activeDot={false}
            isAnimationActive={false}
          />
        ))}
        {LINK_TOP.map((t, i) => (
          <Line
            key={t}
            data={[{ t, v: LINK_TOP_VALUE }, { t: LINK_BOTTOM[i], v: LINK_BOTTOM_VALUE }]}
            dataKey="v"
            type="linear"
            stroke="#2a2aff"
            strokeOpacity={0.8}
            strokeWidth={2.2}
            strokeDasharray="5 6"
            dot={false}
            activeDot={false}
            isAnimationActive={false}
          />
        ))}
        {TRACE_NAMES.map((name, i) => (
          <ReferenceDot
            key={name}
            x={121.25}
            y={TRACE_OFFSETS[i] - 7}
            r={0}
            shape={(p: any) => (
              <text x={p.cx} y={p.cy + 9} fontFamily="'Liberation Sans', sans-serif" fontWeight="bold" fontSize={24} fill={TRACE_COLORS[i]}>
                {name}
              </text>
            )}
          />
        ))}
      </ComposedChart>
    </div>
  )
}
